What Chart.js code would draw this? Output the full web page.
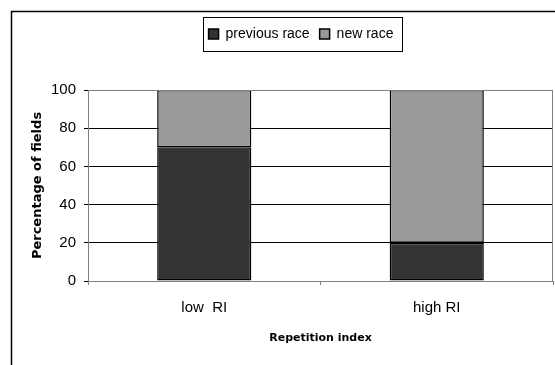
<!DOCTYPE html>
<html>
<head>
<meta charset="utf-8">
<script src="https://cdn.jsdelivr.net/npm/chart.js@4"></script>
<style>
  html, body { margin: 0; padding: 0; background: #fff; overflow: hidden; }
  #wrap { width: 555px; height: 365px; }
</style>
</head>
<body>
<div id="wrap"><canvas id="chart" width="555" height="365"></canvas></div>
<script>
const categories = ["low  RI", "high RI"];
const previousRace = [70, 20];
const newRace = [30, 80];
const yTicks = [0, 20, 40, 60, 80, 100];

const font = "'Liberation Sans', Arial, sans-serif";

// frame round the whole chart, box round the legend, grey plot border
const framePlugin = {
  id: "frame",
  afterLayout(chart) {
    const lg = chart.legend;
    const dx = 301 - (lg.left + lg.right) / 2;
    const dy = -39;
    lg.left += dx; lg.right += dx;
    lg.top += dy; lg.bottom += dy;
  },
  beforeDraw(chart) {
    const ctx = chart.ctx;
    ctx.save();
    ctx.fillStyle = "#fff";
    ctx.fillRect(0, 0, chart.width, chart.height);
    ctx.strokeStyle = "#000";
    ctx.lineWidth = 1.5;
    ctx.beginPath();
    ctx.moveTo(11.5, chart.height + 5);
    ctx.lineTo(11.5, 11.5);
    ctx.lineTo(chart.width + 5, 11.5);
    ctx.stroke();
    ctx.restore();
  },
  afterDraw(chart) {
    const ctx = chart.ctx;
    const boxes = chart.legend.legendHitBoxes;
    if (!boxes || !boxes.length) return;
    const l = Math.min(...boxes.map(b => b.left)) - 6;
    const r = Math.max(...boxes.map(b => b.left + b.width)) + 8;
    const t = Math.min(...boxes.map(b => b.top)) - 10;
    const bt = Math.max(...boxes.map(b => b.top + b.height)) + 10;
    ctx.save();
    ctx.strokeStyle = "#000";
    ctx.lineWidth = 1;
    ctx.strokeRect(Math.round(l) + 0.5, Math.round(t) + 0.5, Math.round(r - l), Math.round(bt - t));
    const a = chart.chartArea;
    ctx.strokeStyle = "#808080";
    ctx.beginPath();
    ctx.moveTo(a.left, a.top + 0.5);
    ctx.lineTo(a.right - 0.5, a.top + 0.5);
    ctx.lineTo(a.right - 0.5, a.bottom);
    ctx.stroke();
    ctx.restore();
  }
};

new Chart(document.getElementById("chart"), {
  type: "bar",
  data: {
    labels: categories,
    datasets: [
      {
        label: "previous race",
        data: previousRace,
        backgroundColor: "#333333",
        borderColor: "#000",
        borderWidth: 1.5,
        borderSkipped: false
      },
      {
        label: "new race",
        data: newRace,
        backgroundColor: "#999999",
        borderColor: "#000",
        borderWidth: 1.5,
        borderSkipped: false
      }
    ]
  },
  options: {
    responsive: false,
    animation: false,
    layout: { padding: { top: 56, left: 25, right: 2, bottom: 0 } },
    datasets: { bar: { categoryPercentage: 1, barPercentage: 0.405 } },
    scales: {
      x: {
        stacked: true,
        grid: { offset: true, drawOnChartArea: false, tickLength: 4, color: "#808080" },
        border: { color: "#808080", width: 1 },
        ticks: { color: "#000", padding: 14, font: { family: font, size: 15 } },
        title: {
          display: true,
          text: "Repetition index",
          color: "#000",
          font: { family: "'DejaVu Sans', sans-serif", size: 11, weight: "bold" },
          padding: { top: 0, bottom: 20 }
        },
        afterFit(scale) { scale.height = 84; }
      },
      y: {
        stacked: true,
        min: 0,
        max: 100,
        afterBuildTicks(scale) { scale.ticks = yTicks.map(v => ({ value: v })); },
        grid: {
          color: ctx => (ctx.tick && ctx.tick.value === 100 ? "#808080" : "#000"),
          tickColor: "#000",
          tickLength: 4
        },
        border: { color: "#808080", width: 1 },
        ticks: { color: "#000", padding: 8, font: { family: font, size: 15 } },
        title: {
          display: true,
          text: "Percentage of fields",
          color: "#000",
          font: { family: "'DejaVu Sans', sans-serif", size: 13, weight: "bold" },
          padding: { top: 5, bottom: 0 }
        },
        afterFit(scale) { scale.width = 88 - 25; }
      }
    },
    plugins: {
      legend: {
        position: "top",
        labels: {
          color: "#000",
          boxWidth: 10,
          boxHeight: 10,
          padding: 10,
          font: { family: font, size: 14 }
        }
      },
      tooltip: { enabled: false }
    }
  },
  plugins: [framePlugin]
});
</script>
</body>
</html>
